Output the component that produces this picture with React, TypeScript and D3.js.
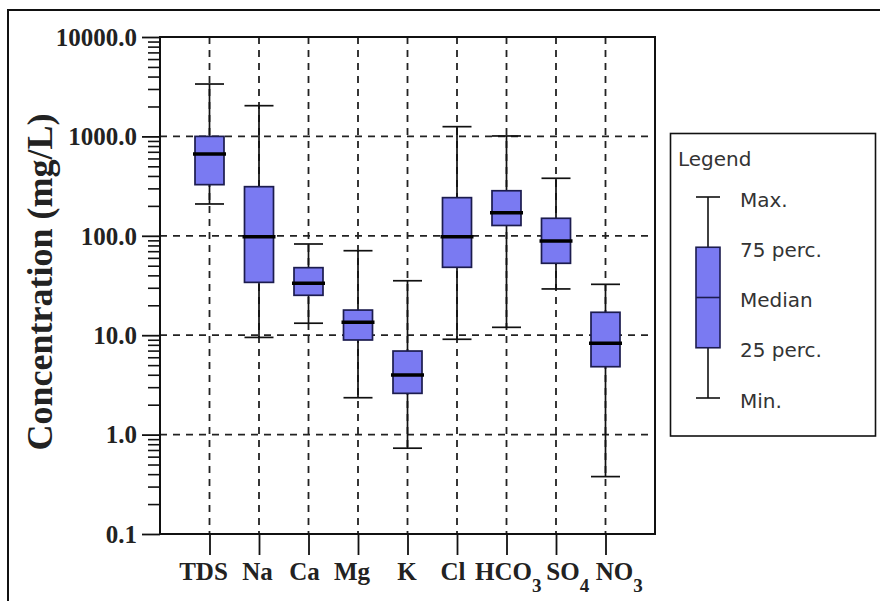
import { useEffect, useRef } from 'react';
import * as d3 from 'd3';

// ---- data ----
const categories = ['TDS', 'Na', 'Ca', 'Mg', 'K', 'Cl', 'HCO3', 'SO4', 'NO3'];
const labelMain = ['TDS', 'Na', 'Ca', 'Mg', 'K', 'Cl', 'HCO', 'SO', 'NO'];
const labelSub = ['', '', '', '', '', '', '3', '4', '3'];

const minValues = [209, 9.5, 13.2, 2.35, 0.73, 9.1, 12.0, 29.2, 0.378];
const q1Values = [327, 34, 25.2, 8.95, 2.6, 48.2, 127, 52.9, 4.82];
const medianValues = [665, 98, 33.3, 13.5, 3.98, 98, 171, 88.7, 8.29];
const q3Values = [1000, 312, 47.8, 17.9, 6.93, 242, 284, 150, 17.0];
const maxValues = [3365, 2037, 82.7, 70.8, 35.3, 1253, 1010, 379, 32.5];

const majorTicks = [0.1, 1, 10, 100, 1000, 10000];
const tickLabels = ['0.1', '1.0', '10.0', '100.0', '1000.0', '10000.0'];
const gridValues = [1, 10, 100, 1000];
const legendItems = ['Max.', '75 perc.', 'Median', '25 perc.', 'Min.'];

// ---- layout ----
const W = 880;
const H = 601;
const margin = { left: 160, right: 655, top: 37, bottom: 534 };
const labelNudge = [-6, -1.5, -4, -6, -0.5, -4, -3, 7, 9];
const BOX_FILL = '#7a7af2';
const BOX_STROKE = '#1c1c4e';
const SERIF = '"Liberation Serif", "Times New Roman", serif';
const SANS = '"DejaVu Sans", Verdana, sans-serif';

const App = () => {
  const svgRef = useRef<SVGSVGElement>(null);

  useEffect(() => {
    const svg = d3.select(svgRef.current);
    svg.selectAll('*').remove();

    svg.append('rect').attr('width', W).attr('height', H).attr('fill', '#fff');

    // outer frame (runs off the right and bottom edges)
    svg.append('path')
      .attr('d', `M8,${H + 5}V10H${W + 5}`)
      .attr('fill', 'none')
      .attr('stroke', '#111')
      .attr('stroke-width', 2);

    const x = d3.scalePoint<string>()
      .domain(categories)
      .range([margin.left, margin.right])
      .padding(1);

    const y = d3.scaleLog()
      .domain([0.1, 10000])
      .range([margin.bottom, margin.top]);

    // dashed grid
    const grid = svg.append('g')
      .attr('stroke', '#222')
      .attr('stroke-width', 1.8)
      .attr('stroke-dasharray', '7,6');

    grid.selectAll('line.h')
      .data(gridValues)
      .enter()
      .append('line')
      .attr('x1', margin.left)
      .attr('x2', margin.right)
      .attr('y1', d => y(d))
      .attr('y2', d => y(d));

    grid.selectAll('line.v')
      .data(categories)
      .enter()
      .append('line')
      .attr('x1', d => x(d)!)
      .attr('x2', d => x(d)!)
      .attr('y1', margin.top)
      .attr('y2', margin.bottom);

    // y axis: minor then major ticks
    const minorTicks = y.ticks().filter(t => !majorTicks.some(m => Math.abs(m - t) < 1e-9));
    const minorAxis = svg.append('g')
      .attr('transform', `translate(${margin.left},0)`)
      .call(d3.axisLeft(y).tickValues(minorTicks).tickSize(12).tickSizeOuter(0).tickFormat(() => ''));
    minorAxis.select('.domain').remove();
    minorAxis.selectAll('line').attr('stroke', '#111').attr('stroke-width', 1.6);

    const majorAxis = svg.append('g')
      .attr('transform', `translate(${margin.left},0)`)
      .call(d3.axisLeft(y)
        .tickValues(majorTicks)
        .tickSize(18)
        .tickPadding(5)
        .tickSizeOuter(0)
        .tickFormat((_, i) => tickLabels[i]));
    majorAxis.select('.domain').remove();
    majorAxis.selectAll('line').attr('stroke', '#111').attr('stroke-width', 1.8);
    majorAxis.selectAll('text')
      .attr('font-family', SERIF)
      .attr('font-weight', 'bold')
      .attr('font-size', 25)
      .attr('fill', '#222')
      .attr('dy', '0.33em');

    // x axis ticks
    const xAxis = svg.append('g')
      .attr('transform', `translate(0,${margin.bottom})`)
      .call(d3.axisBottom(x).tickSize(21).tickSizeOuter(0).tickFormat(() => ''));
    xAxis.select('.domain').remove();
    xAxis.selectAll('line').attr('stroke', '#111').attr('stroke-width', 1.8);

    // x labels with subscripts
    categories.forEach((c, i) => {
      const t = svg.append('text')
        .attr('y', 580)
        .attr('font-family', SERIF)
        .attr('font-weight', 'bold')
        .attr('font-size', 25)
        .attr('fill', '#222');
      const main = t.append('tspan').text(labelMain[i]);
      if (labelSub[i]) {
        t.append('tspan')
          .attr('font-size', 19)
          .attr('dy', 12)
          .text(labelSub[i]);
      }
      const w = (main.node() as SVGTextContentElement).getComputedTextLength();
      t.attr('x', x(c)! - w / 2 + labelNudge[i]);
    });

    // box plots
    const boxW = 29;
    const boxes = svg.append('g');
    categories.forEach((c, i) => {
      const cx = x(c)!;
      boxes.append('line')
        .attr('x1', cx).attr('x2', cx)
        .attr('y1', y(minValues[i])).attr('y2', y(maxValues[i]))
        .attr('stroke', '#111').attr('stroke-width', 1.7);
      [minValues[i], maxValues[i]].forEach(v => {
        boxes.append('line')
          .attr('x1', cx - boxW / 2).attr('x2', cx + boxW / 2)
          .attr('y1', y(v)).attr('y2', y(v))
          .attr('stroke', '#111').attr('stroke-width', 1.7);
      });
      boxes.append('rect')
        .attr('x', cx - boxW / 2)
        .attr('width', boxW)
        .attr('y', y(q3Values[i]))
        .attr('height', y(q1Values[i]) - y(q3Values[i]))
        .attr('fill', BOX_FILL)
        .attr('stroke', BOX_STROKE)
        .attr('stroke-width', 1.7);
      boxes.append('line')
        .attr('x1', cx - boxW / 2 - 2).attr('x2', cx + boxW / 2 + 2)
        .attr('y1', y(medianValues[i])).attr('y2', y(medianValues[i]))
        .attr('stroke', '#000').attr('stroke-width', 3.5);
    });

    // plot frame
    svg.append('rect')
      .attr('x', margin.left)
      .attr('y', margin.top)
      .attr('width', margin.right - margin.left)
      .attr('height', margin.bottom - margin.top)
      .attr('fill', 'none')
      .attr('stroke', '#111')
      .attr('stroke-width', 2);

    // y title
    svg.append('text')
      .attr('transform', `translate(40,282) rotate(-90)`)
      .attr('text-anchor', 'middle')
      .attr('dominant-baseline', 'central')
      .attr('font-family', SERIF)
      .attr('font-weight', 'bold')
      .attr('font-size', 36)
      .attr('fill', '#222')
      .text('Concentration (mg/L)');

    // legend
    const legend = svg.append('g');
    legend.append('rect')
      .attr('x', 670.5).attr('y', 133.5)
      .attr('width', 205).attr('height', 302.5)
      .attr('fill', '#fff')
      .attr('stroke', '#111')
      .attr('stroke-width', 1.6);
    legend.append('text')
      .attr('x', 678).attr('y', 166)
      .attr('font-family', SANS).attr('font-size', 20).attr('fill', '#333')
      .text('Legend');

    const ly = d3.scalePoint<string>().domain(legendItems).range([197, 398]);
    const lx = 708;
    const lw = 24;
    legend.append('line')
      .attr('x1', lx).attr('x2', lx)
      .attr('y1', ly('Max.')!).attr('y2', ly('Min.')!)
      .attr('stroke', '#111').attr('stroke-width', 1.6);
    ['Max.', 'Min.'].forEach(k => {
      legend.append('line')
        .attr('x1', lx - lw / 2).attr('x2', lx + lw / 2)
        .attr('y1', ly(k)!).attr('y2', ly(k)!)
        .attr('stroke', '#111').attr('stroke-width', 1.6);
    });
    legend.append('rect')
      .attr('x', lx - lw / 2).attr('width', lw)
      .attr('y', ly('75 perc.')!)
      .attr('height', ly('25 perc.')! - ly('75 perc.')!)
      .attr('fill', BOX_FILL)
      .attr('stroke', BOX_STROKE)
      .attr('stroke-width', 1.6);
    legend.append('line')
      .attr('x1', lx - lw / 2).attr('x2', lx + lw / 2)
      .attr('y1', ly('Median')!).attr('y2', ly('Median')!)
      .attr('stroke', BOX_STROKE).attr('stroke-width', 1.6);
    legend.selectAll('text.item')
      .data(legendItems)
      .enter()
      .append('text')
      .attr('class', 'item')
      .attr('x', 740)
      .attr('y', d => ly(d)! + 9.5)
      .attr('font-family', SANS)
      .attr('font-size', 20)
      .attr('fill', '#333')
      .text(d => d);
  }, []);

  return (
    <svg
      ref={svgRef}
      width={W}
      height={H}
      style={{ position: 'absolute', left: 0, top: 0, display: 'block' }}
    />
  );
};

export default App;
